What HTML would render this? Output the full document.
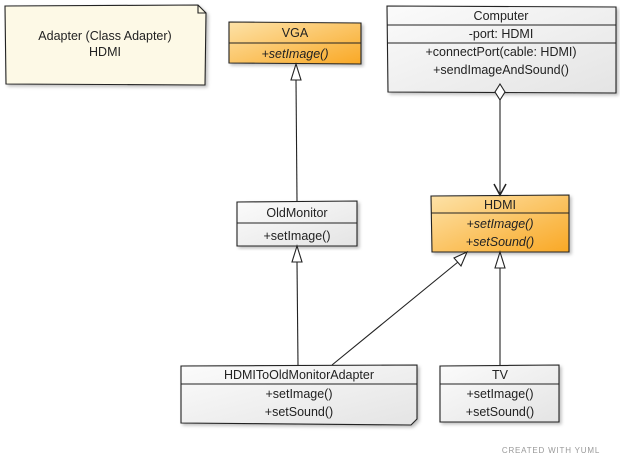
<!DOCTYPE html>
<html><head><style>
html,body{margin:0;padding:0;background:#fff}
svg{display:block}
text{font-family:"Liberation Sans",sans-serif;font-size:12.5px;fill:#222;text-anchor:middle}
.i{font-style:italic}
</style></head><body>
<svg width="620" height="465" viewBox="0 0 620 465" xmlns="http://www.w3.org/2000/svg">
<defs>
<linearGradient id="o" x1="0" y1="0" x2="1" y2="1"><stop offset="0" stop-color="#fde2a8"/><stop offset="1" stop-color="#f9a825"/></linearGradient>
<linearGradient id="g" x1="0" y1="0" x2="1" y2="1"><stop offset="0" stop-color="#fbfbfb"/><stop offset="1" stop-color="#e4e4e4"/></linearGradient>
<filter id="s"><feDropShadow dx="2" dy="2" stdDeviation="1.5" flood-color="#000" flood-opacity="0.25"/></filter>
</defs>
<g stroke="#222" stroke-width="1.1">
<path d="M5 6 L198 5 L206 13 L205 85 L6 84 Z" fill="#fdf9e6" filter="url(#s)"/>
<path d="M198 5 L198 13 L206 13" fill="none"/>
<path d="M229 22 L361 23 L361 64 L229 63 Z" fill="url(#o)" filter="url(#s)"/>
<line x1="229" y1="43" x2="361" y2="43"/>
<path d="M387 6 L616 7 L616 93 L388 92 Z" fill="url(#g)" filter="url(#s)"/>
<line x1="387" y1="25" x2="616" y2="25"/><line x1="387" y1="43" x2="616" y2="43"/>
<path d="M431 196 L569 195 L569 252 L432 252 Z" fill="url(#o)" filter="url(#s)"/>
<line x1="431" y1="213" x2="569" y2="213"/>
<path d="M237 202 L357 201 L357 246 L237 246 Z" fill="url(#g)" filter="url(#s)"/>
<line x1="237" y1="223" x2="357" y2="223"/>
<path d="M181 366 L417 365 L417 419 L411 425 L181 423 Z" fill="url(#g)" filter="url(#s)"/>
<line x1="181" y1="384" x2="417" y2="384"/>
<path d="M440 366 L559 365 L559 422 L440 422 Z" fill="url(#g)" filter="url(#s)"/>
<line x1="440" y1="384" x2="559" y2="384"/>
<line x1="296" y1="80" x2="297" y2="201"/>
<path d="M296 64 L291 80 L301 80 Z" fill="#fff"/>
<line x1="500" y1="100" x2="500" y2="194"/>
<path d="M500 84 L505 92 L500 100 L495 92 Z" fill="#fff"/>
<path d="M494 184 L500 195 L506 184" fill="none" stroke-width="1.5"/>
<line x1="297" y1="262" x2="298" y2="365"/>
<path d="M297 246 L292 262 L302 262 Z" fill="#fff"/>
<line x1="500" y1="268" x2="500" y2="365"/>
<path d="M500 252 L495 268 L505 268 Z" fill="#fff"/>
<line x1="332" y1="365" x2="458" y2="262"/>
<path d="M467 252 L454 258 L461 266 Z" fill="#fff"/>
</g>
<text x="105" y="40">Adapter (Class Adapter)</text>
<text x="105" y="56">HDMI</text>
<text x="295" y="37">VGA</text>
<text x="295" y="58" class="i">+setImage()</text>
<text x="501" y="20">Computer</text>
<text x="501" y="38">-port: HDMI</text>
<text x="501" y="56">+connectPort(cable: HDMI)</text>
<text x="501" y="74">+sendImageAndSound()</text>
<text x="500" y="209">HDMI</text>
<text x="500" y="228" class="i">+setImage()</text>
<text x="500" y="246" class="i">+setSound()</text>
<text x="297" y="217">OldMonitor</text>
<text x="297" y="240">+setImage()</text>
<text x="299" y="379">HDMIToOldMonitorAdapter</text>
<text x="299" y="398">+setImage()</text>
<text x="299" y="416">+setSound()</text>
<text x="500" y="379">TV</text>
<text x="500" y="398">+setImage()</text>
<text x="500" y="416">+setSound()</text>
<text x="551" y="453" style="font-size:8px;fill:#999;letter-spacing:0.8px">CREATED WITH YUML</text>
</svg>
</body></html>
